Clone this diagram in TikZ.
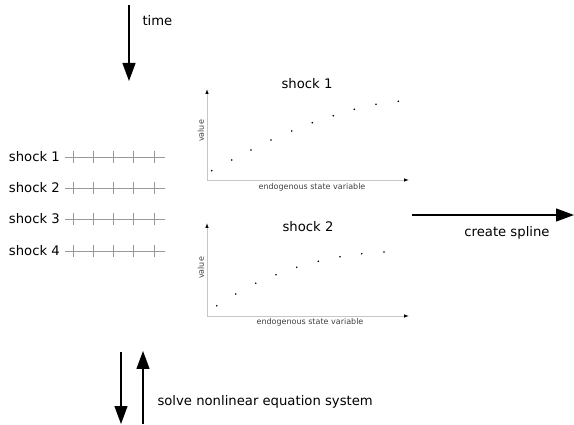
\documentclass[tikz,border=0pt]{standalone}
\usepackage{fontspec}
\setmainfont{DejaVu Sans}
\usepackage{tikz}
\usetikzlibrary{arrows.meta,positioning,calc}

\begin{document}
\begin{tikzpicture}[x=1pt, y=-1pt, font=\fontsize{13.2}{15}\selectfont,
  bigar/.style={line width=1.2pt, -{Triangle[length=18pt, width=13pt]}},
  axis/.style={gray!45, line width=0.8pt, -{Latex[length=5pt, width=3.5pt, color=black]}},
  grid/.style={gray!80, line width=0.6pt},
  dot/.style={circle, fill=black, inner sep=0pt, minimum size=1.8pt},
  small/.style={font=\fontsize{8}{9}\selectfont, text=black!75}]
  \useasboundingbox (0,0) rectangle (574,425);
  % time arrow
  \coordinate (t0) at (129,5);
  \coordinate (t1) at (129,81);
  \draw[bigar] (t0) -- (t1);
  \node[anchor=west] (time) at (139,21) {time};
  % shock grids: five ticks on each line
  \foreach \i/\y in {1/157,2/188,3/219,4/251} {
    \node[anchor=east, inner sep=2pt] (lab\i) at (62,\y) {shock \i};
    \coordinate (gl\i) at (65,\y);
    \coordinate (gr\i) at (165,\y);
    \draw[grid] (gl\i) -- (gr\i);
    \foreach \x in {73,93,113,133,154}
      \draw[grid] (\x,\y-6) -- (\x,\y+6);
  }
  % plot 1
  \coordinate (o1) at (207,180);
  \coordinate (ytop1) at (207,89);
  \coordinate (xend1) at (409,180);
  \draw[axis] (o1) -- (ytop1);
  \draw[axis] (o1) -- (xend1);
  \node (title1) at (307,84) {shock 1};
  \node[small, rotate=90] (val1) at (201,131) {value};
  \node[small] (xlab1) at (312,187) {endogenous state variable};
  \foreach \x/\y [count=\k] in {211.7/170.7,231.7/160,251/150,271/140,291.7/131,
      312.3/122.7,333.3/115.7,354.3/109.3,376/104.3,398.3/101.3}
    \node[dot] (pa\k) at (\x,\y) {};
  % plot 2
  \coordinate (o2) at (207,316);
  \coordinate (ytop2) at (207,223);
  \coordinate (xend2) at (409,316);
  \draw[axis] (o2) -- (ytop2);
  \draw[axis] (o2) -- (xend2);
  \node (title2) at (308,227) {shock 2};
  \node[small, rotate=90] (val2) at (201,268) {value};
  \node[small] (xlab2) at (310,322) {endogenous state variable};
  \foreach \x/\y [count=\k] in {216.7/305.7,235.7/294,255.7/283.3,276/274.7,296.7/267.3,
      318.3/261.3,340/256.7,361.7/253.7,384/252}
    \node[dot] (pb\k) at (\x,\y) {};
  % create spline
  \coordinate (s0) at (412,215);
  \coordinate (s1) at (574,215);
  \draw[bigar] (s0) -- (s1);
  \node (spline) at (507,233) {create spline};
  % solve nonlinear system
  \coordinate (d0) at (121,352);
  \coordinate (d1) at (121,424);
  \coordinate (u0) at (143,424);
  \coordinate (u1) at (143,351);
  \draw[bigar] (d0) -- (d1);
  \draw[bigar] (u0) -- (u1);
  \node[anchor=west] (solve) at (154,402) {solve nonlinear equation system};
\end{tikzpicture}
\end{document}
